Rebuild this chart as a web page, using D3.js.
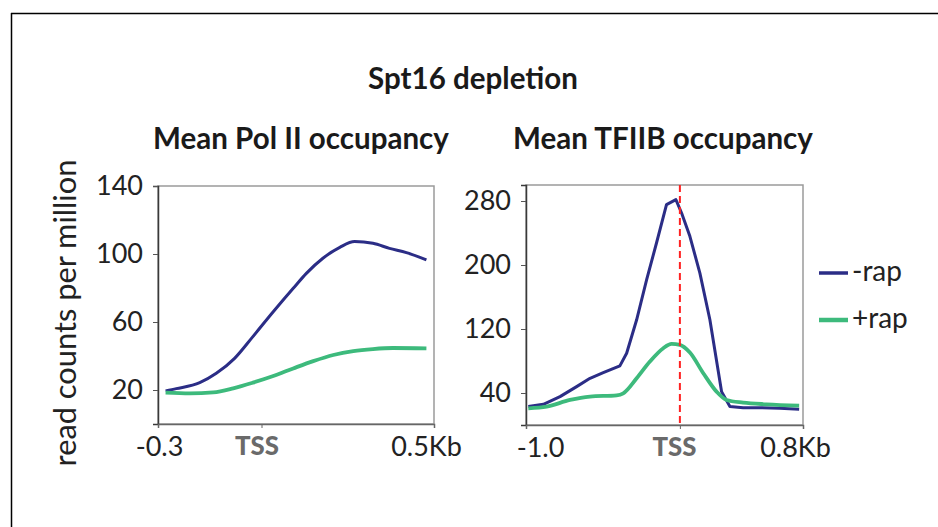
<!DOCTYPE html>
<html><head><meta charset="utf-8">
<script src="https://cdn.jsdelivr.net/npm/d3@7/dist/d3.min.js"></script>
<style>
body{margin:0;background:#fff;}
svg{display:block;}
text{font-family:Lato,"Open Sans",sans-serif;}
</style></head>
<body><svg id="c" width="938" height="527"></svg>
<script>
// ---- data ----
const polX   = [-0.278,-0.247,-0.179,-0.131,-0.078,-0.025,0.034,0.092,0.130,0.178,0.227,0.270,0.323,0.371,0.420,0.478];
const polMinus = [19.5,20.8,24.3,29.8,38.6,51.4,66,79.8,88.6,97.5,103.9,107.3,106.3,103.3,100.8,96.5];
const polPlusX = [-0.278,-0.208,-0.140,-0.082,-0.025,0.034,0.092,0.150,0.208,0.266,0.323,0.381,0.478];
const polPlus  = [18.4,18.0,18.6,21.0,24.3,28.2,32.7,37.0,40.6,42.9,44.1,44.7,44.5];

const tfX = [-0.985,-0.887,-0.779,-0.671,-0.584,-0.498,-0.390,-0.346,-0.281,-0.216,-0.152,-0.087,-0.026,0.011,0.065,0.130,0.195,0.271,0.325,0.411,0.519,0.649,0.775];
const tfMinus = [23,25.9,35.5,48,58.4,65.5,73.9,89.7,131.5,181.6,227.5,275.5,281.7,265,235.8,189.9,131.5,41.7,23,21.7,21.7,20.9,19.6];
const tfPlusX = [-0.985,-0.866,-0.714,-0.584,-0.411,-0.368,-0.281,-0.195,-0.108,-0.054,0.0,0.065,0.152,0.238,0.303,0.411,0.563,0.775];
const tfPlus  = [20.9,23,31.3,35.5,37.1,39.6,58.4,79.3,96,101.4,100.2,90.6,64.7,41.7,31.3,28,25.9,24.2];

const polYTicks = [20,60,100,140];
const tfYTicks  = [40,120,200,280];
const polXTicks = [[-0.3,"-0.3"],[0,"TSS"],[0.5,"0.5Kb"]];
const tfXTicks  = [[-1.0,"-1.0"],[0,"TSS"],[0.8,"0.8Kb"]];
const seriesNames = ["-rap","+rap"];
const colors = ["#2b2d86","#3dba7c"];

const svg = d3.select("#c");

// measure helper: font size so that a sample string reaches a target width
function fitSize(str, target, weight){
  const t = svg.append("text").attr("font-size",20).attr("font-weight",weight||"normal").text(str);
  const w = t.node().getComputedTextLength();
  t.remove();
  return 20*target/w;
}
const fsTitle = fitSize("Mean Pol II occupancy",296,"bold");
const fsTick  = fitSize("140",47);
const fsYLab  = fitSize("read counts per million",307);
const fsTSS   = fitSize("TSS",44,"900");
const fsLeg   = fitSize("-rap",50);

// frame
svg.append("line").attr("x1",11).attr("x2",938).attr("y1",13.5).attr("y2",13.5).attr("stroke","#000").attr("stroke-width",1.5);
svg.append("line").attr("x1",11.5).attr("x2",11.5).attr("y1",13).attr("y2",527).attr("stroke","#000").attr("stroke-width",1.5);

// titles
svg.append("text").attr("x",473).attr("y",89).attr("text-anchor","middle").attr("font-weight","bold").attr("font-size",fsTitle).attr("fill","#1a1a1a").text("Spt16 depletion");
svg.append("text").attr("x",301).attr("y",149).attr("text-anchor","middle").attr("font-weight","bold").attr("font-size",fsTitle).attr("fill","#1a1a1a").text("Mean Pol II occupancy");
svg.append("text").attr("x",663).attr("y",149).attr("text-anchor","middle").attr("font-weight","bold").attr("font-size",fsTitle).attr("fill","#1a1a1a").text("Mean TFIIB occupancy");

// y label
svg.append("text").attr("transform","translate(76,313) rotate(-90)").attr("text-anchor","middle").attr("font-size",fsYLab).attr("fill","#222").text("read counts per million");

function panel(x0,x1,y0,y1,xd,yd,yTicks,xTicks,labelDx,series,tss){
  const x = d3.scaleLinear().domain(xd).range([x0,x1]);
  const y = d3.scaleLinear().domain(yd).range([y1,y0]);
  const g = svg.append("g");
  g.append("rect").attr("x",x0).attr("y",y0).attr("width",x1-x0).attr("height",y1-y0).attr("fill","none").attr("stroke","#9a9a9a").attr("stroke-width",1.5);
  const ya = g.append("g").attr("transform",`translate(${x0},0)`).call(d3.axisLeft(y).tickValues(yTicks).tickSize(5).tickPadding(10));
  ya.select(".domain").attr("stroke","#3a3a3a").attr("stroke-width",1.5);
  ya.selectAll("line").attr("stroke","#555");
  ya.selectAll("text").attr("font-size",fsTick).attr("fill","#222").style("font-family","Lato,sans-serif");
  const xa = g.append("g").attr("transform",`translate(0,${y1})`).call(d3.axisBottom(x).tickValues(xTicks.map(d=>d[0])).tickFormat((d,i)=>xTicks[i][1]).tickSize(4).tickPadding(9));
  xa.select(".domain").attr("stroke","#666").attr("stroke-width",1.5);
  xa.selectAll("line").attr("stroke","#666");
  xa.selectAll("text").attr("font-size",fsTick).attr("fill","#222").style("font-family","Lato,sans-serif")
    .attr("dx",(d,i)=>labelDx[i])
    .each(function(d,i){ if(xTicks[i][1]==="TSS"){ d3.select(this).attr("font-weight","900").attr("font-size",fsTSS).attr("fill","#6a6a6a"); } });
  series.forEach((s,i)=>{
    const line = d3.line().x(d=>x(d[0])).y(d=>y(d[1])).curve(s.curve);
    g.append("path").datum(s.xs.map((v,j)=>[v,s.ys[j]])).attr("d",line).attr("fill","none").attr("stroke",colors[i]).attr("stroke-width",i===0?3:3.8).attr("stroke-linejoin","round");
  });
  if(tss){
    g.append("line").attr("x1",x(0)).attr("x2",x(0)).attr("y1",y0).attr("y2",y1).attr("stroke","#ff2222").attr("stroke-width",2).attr("stroke-dasharray","7,4");
  }
}

panel(158,434,186,424,[-0.3,0.5],[0,140],polYTicks,polXTicks,[1,-5,-8],
  [{xs:polX,ys:polMinus,curve:d3.curveMonotoneX},{xs:polPlusX,ys:polPlus,curve:d3.curveMonotoneX}],false);
panel(526,803,185,425,[-1.0,0.8],[0,300],tfYTicks,tfXTicks,[14,-6,-8],
  [{xs:tfX,ys:tfMinus,curve:d3.curveLinear},{xs:tfPlusX,ys:tfPlus,curve:d3.curveMonotoneX}],true);

// legend
seriesNames.forEach((n,i)=>{
  const yy = 273 + i*47;
  svg.append("line").attr("x1",819).attr("x2",848).attr("y1",yy).attr("y2",yy).attr("stroke",colors[i]).attr("stroke-width",i===0?3.5:4.5);
  svg.append("text").attr("x",852).attr("y",yy+8).attr("font-size",fsLeg).attr("fill","#222").text(n);
});
</script></body></html>
